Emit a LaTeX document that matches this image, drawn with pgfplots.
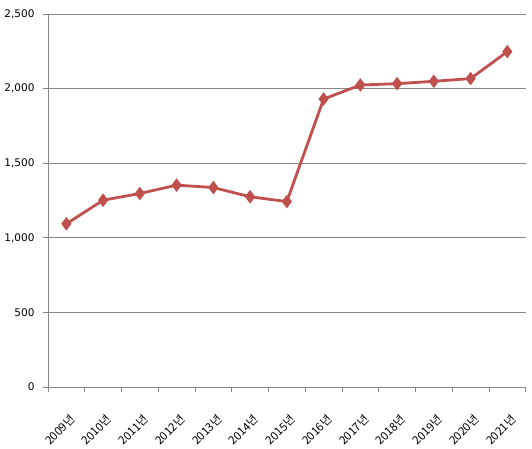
\documentclass[border=0pt]{standalone}
\usepackage{fontspec}
\setmainfont{DejaVu Sans}
\newfontfamily\kr{Noto Sans CJK KR}
\usepackage{pgfplots}
\pgfplotsset{compat=1.18}
\definecolor{linered}{HTML}{C0504D}
\definecolor{axgray}{HTML}{868686}
\begin{document}
\begin{tikzpicture}
\begin{axis}[
    scale only axis,
    width=477.7pt, height=373pt,
    xmin=-0.5, xmax=12.5,
    ymin=0, ymax=2500,
    axis x line=bottom, axis y line=left,
    axis line style={axgray, line width=0.8pt, -},
    xtick={0,...,12},
    xticklabels={2009년,2010년,2011년,2012년,2013년,2014년,2015년,2016년,2017년,2018년,2019년,2020년,2021년},
    major x tick style={draw=none},
    minor xtick={-0.5,0.5,...,12.5},
    minor x tick style={axgray, line width=0.8pt},
    minor tick length=5pt,
    x tick label style={font=\kr\fontsize{11.5}{13}\selectfont, xshift=2.5pt, yshift=-20pt, rotate=45, anchor=north east, inner sep=1pt},
    ytick={0,500,...,2500},
    y tick style={axgray, line width=0.8pt},
    major tick length=5pt,
    tick align=outside,
    y tick label style={font=\fontsize{10.5}{12}\selectfont, xshift=-5pt},
    /pgf/number format/assume math mode=true,
    /pgf/number format/1000 sep={,},
    ymajorgrids,
    grid style={axgray, line width=0.8pt},
    clip=false,
]
\addplot[color=linered, line width=2.8pt, mark=diamond*, mark size=4.5pt, mark options={solid}]
coordinates {
(0,1094) (1,1252) (2,1297) (3,1353) (4,1337) (5,1275) (6,1243)
(7,1930) (8,2024) (9,2033) (10,2049) (11,2067) (12,2248)
};
\end{axis}
\pgfresetboundingbox
\path (-48pt,-61pt) rectangle (484pt,387pt);
\end{tikzpicture}
\end{document}
